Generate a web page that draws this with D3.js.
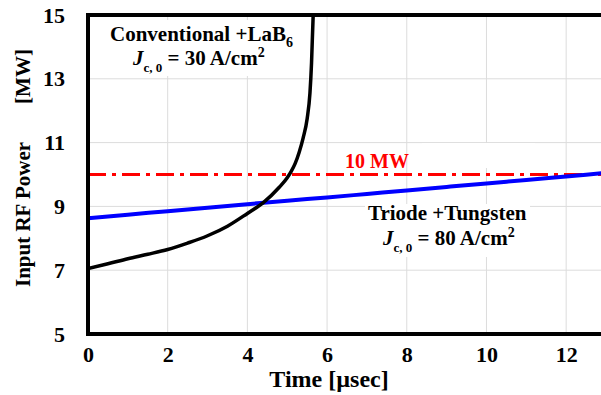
<!DOCTYPE html>
<html>
<head>
<meta charset="utf-8">
<script src="https://cdn.jsdelivr.net/npm/d3@7"></script>
<style>
  html, body { margin: 0; padding: 0; background: #fff; overflow: hidden; }
  svg text { font-family: 'Liberation Serif', 'DejaVu Serif', 'Times New Roman', serif; font-weight: bold; }
</style>
</head>
<body>
<div id="chart"></div>
<script>
// time axis [usec] and power axis [MW]
const xTicks = [0, 2, 4, 6, 8, 10, 12];
const yTicks = [5, 7, 9, 11, 13, 15];

// Conventional gun + LaB6 cathode (Jc,0 = 30 A/cm2)
const convTime = [0, 0.5, 1, 1.5, 2, 2.5, 3, 3.5, 4, 4.4, 4.8, 5.0, 5.1, 5.2, 5.3, 5.4, 5.5, 5.57, 5.61, 5.65, 5.68];
const convPower = [7.05, 7.2, 7.36, 7.5, 7.65, 7.85, 8.08, 8.38, 8.78, 9.12, 9.6, 9.9, 10.1, 10.35, 10.7, 11.15, 11.75, 12.55, 13.5, 14.95, 15.6];

// Triode gun + Tungsten cathode (Jc,0 = 80 A/cm2)
const triodeTime = [0, 1, 2, 3, 4, 5, 6, 7, 8, 9, 10, 11, 12, 13];
const triodePower = [8.63, 8.74, 8.85, 8.96, 9.07, 9.18, 9.28, 9.39, 9.5, 9.61, 9.72, 9.83, 9.94, 10.05];

const limitPower = 10;

const width = 601;
const height = 395;
const plot = { left: 88, right: 606, top: 15, bottom: 334 };
const serif = "'Liberation Serif', 'DejaVu Serif', 'Times New Roman', serif";

const svg = d3.select('#chart')
  .append('svg')
  .attr('width', width)
  .attr('height', height);

const xScale = d3.scaleLinear().domain([0, 13]).range([plot.left, plot.right]);
const yScale = d3.scaleLinear().domain([5, 15]).range([plot.bottom, plot.top]);

svg.append('defs').append('clipPath')
  .attr('id', 'plot-clip')
  .append('rect')
  .attr('x', plot.left)
  .attr('y', plot.top)
  .attr('width', plot.right - plot.left)
  .attr('height', plot.bottom - plot.top);

// gridlines
const grid = svg.append('g').attr('class', 'grid');
grid.selectAll('.vgrid')
  .data(xTicks.filter(d => d > 0))
  .enter()
  .append('line')
  .attr('x1', d => xScale(d))
  .attr('x2', d => xScale(d))
  .attr('y1', plot.top)
  .attr('y2', plot.bottom)
  .attr('stroke', '#dcdcdc')
  .attr('stroke-width', 1);
grid.selectAll('.hgrid')
  .data(yTicks.filter(d => d > 5 && d < 15))
  .enter()
  .append('line')
  .attr('x1', plot.left)
  .attr('x2', plot.right)
  .attr('y1', d => yScale(d))
  .attr('y2', d => yScale(d))
  .attr('stroke', '#dcdcdc')
  .attr('stroke-width', 1);

// white boxes behind labels (hide gridlines as in the original)
const boxes = [[105, 20, 193, 56], [365, 204, 165, 53], [422, 143, 113, 25]];
svg.append('g').selectAll('rect')
  .data(boxes)
  .enter()
  .append('rect')
  .attr('x', d => d[0])
  .attr('y', d => d[1])
  .attr('width', d => d[2])
  .attr('height', d => d[3])
  .attr('fill', '#fff');

// tick labels
const xAxis = svg.append('g')
  .attr('transform', `translate(0, ${plot.bottom})`)
  .call(d3.axisBottom(xScale).tickValues(xTicks).tickSize(0).tickPadding(12).tickFormat(d3.format('d')));
xAxis.select('.domain').remove();
xAxis.attr('font-family', serif);
xAxis.selectAll('text')
  .attr('fill', '#000')
  .style('font-size', '22px');

const yAxis = svg.append('g')
  .attr('transform', `translate(${plot.left}, 0)`)
  .call(d3.axisLeft(yScale).tickValues(yTicks).tickSize(0).tickPadding(23).tickFormat(d3.format('d')));
yAxis.select('.domain').remove();
yAxis.attr('font-family', serif);
yAxis.selectAll('text')
  .attr('fill', '#000')
  .style('font-size', '22px');

// 10 MW limit
svg.append('line')
  .attr('x1', xScale(0))
  .attr('x2', xScale(13))
  .attr('y1', yScale(limitPower))
  .attr('y2', yScale(limitPower))
  .attr('stroke', '#ff0000')
  .attr('stroke-width', 3)
  .attr('stroke-dasharray', '18,6,4,6');

const lineGen = d3.line()
  .x(d => xScale(d[0]))
  .y(d => yScale(d[1]))
  .curve(d3.curveMonotoneX);

const curves = svg.append('g').attr('clip-path', 'url(#plot-clip)');
curves.append('path')
  .datum(triodeTime.map((t, i) => [t, triodePower[i]]))
  .attr('d', lineGen)
  .attr('fill', 'none')
  .attr('stroke', '#0000ff')
  .attr('stroke-width', 4);
curves.append('path')
  .datum(convTime.map((t, i) => [t, convPower[i]]))
  .attr('d', lineGen)
  .attr('fill', 'none')
  .attr('stroke', '#000')
  .attr('stroke-width', 3.5);

// frame
svg.append('rect')
  .attr('x', plot.left)
  .attr('y', plot.top)
  .attr('width', plot.right - plot.left)
  .attr('height', plot.bottom - plot.top)
  .attr('fill', 'none')
  .attr('stroke', '#000')
  .attr('stroke-width', 4);

// axis titles
svg.append('text')
  .attr('x', 329)
  .attr('y', 387)
  .attr('text-anchor', 'middle')
  .style('font-size', '24px')
  .text('Time [\u00b5sec]');

const yTitle = svg.append('text')
  .attr('transform', 'translate(30, 287) rotate(-90)')
  .style('font-size', '21px');
yTitle.append('tspan').text('Input RF Power');
yTitle.append('tspan').attr('dx', 38).text('[MW]');

// annotations
svg.append('text')
  .attr('x', 345)
  .attr('y', 168)
  .attr('fill', '#ff0000')
  .style('font-size', '20px')
  .text('10 MW');

function cathodeLabel(x1, y1, title, sub, x2, y2, jc) {
  const t1 = svg.append('text').attr('x', x1).attr('y', y1).style('font-size', '21px');
  t1.append('tspan').text(title);
  if (sub) {
    t1.append('tspan').attr('dy', 6).style('font-size', '14px').text(sub);
  }
  const t2 = svg.append('text').attr('x', x2).attr('y', y2).style('font-size', '21px');
  t2.append('tspan').style('font-style', 'italic').text('J');
  t2.append('tspan').attr('dy', 7).style('font-size', '13px').text('c, 0');
  t2.append('tspan').attr('dy', -7).text(` = ${jc} A/cm`);
  t2.append('tspan').attr('dy', -8).style('font-size', '14px').text('2');
}

cathodeLabel(110, 41, 'Conventional +LaB', '6', 133, 65, 30);
cathodeLabel(368, 220, 'Triode +Tungsten', null, 383, 245, 80);
</script>
</body>
</html>
